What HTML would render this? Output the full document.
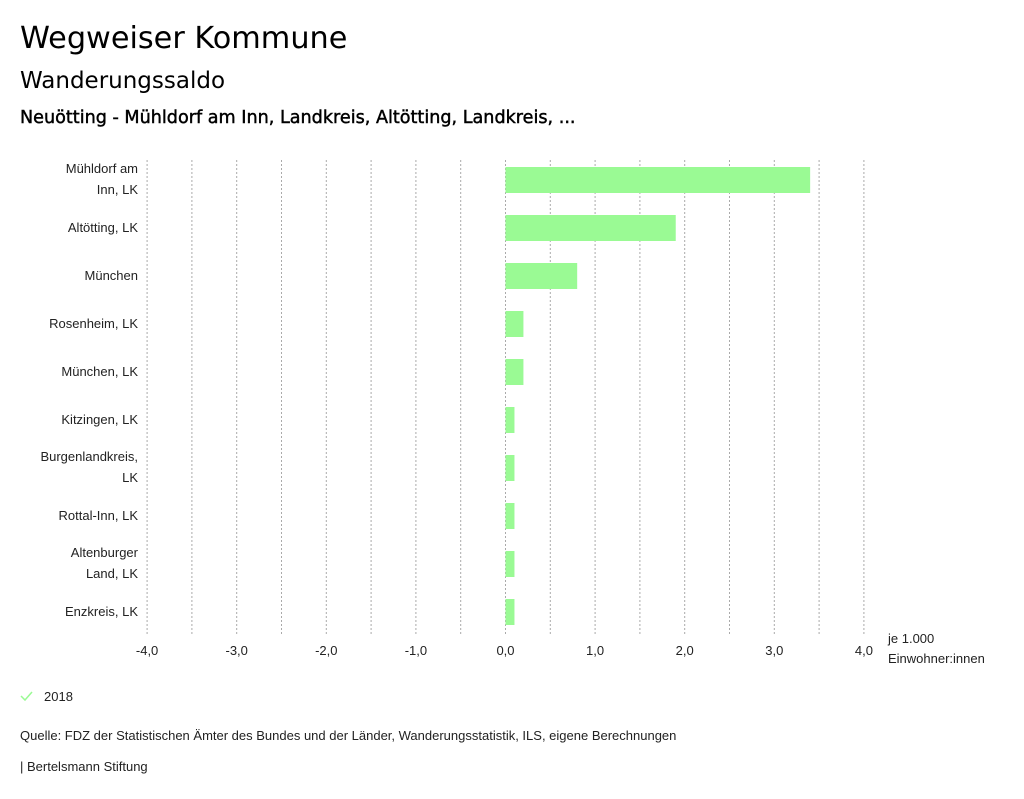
<!DOCTYPE html>
<html><head><meta charset="utf-8"><style>
html,body{margin:0;padding:0;background:#fff;width:1024px;height:799px;overflow:hidden}
svg{display:block}
.t{font-family:"DejaVu Sans",sans-serif;fill:#000}
.s{font-family:"Liberation Sans",sans-serif;font-size:13px;fill:#222}
</style></head><body>
<svg id="chart" width="1024" height="799">
<text class="t" x="20" y="48" font-size="30.3">Wegweiser Kommune</text>
<text class="t" x="20" y="88" font-size="23">Wanderungssaldo</text>
<text class="t" x="20" y="123" font-size="17.6" stroke="#000" stroke-width="0.45">Neuötting - Mühldorf am Inn, Landkreis, Altötting, Landkreis, ...</text>
<g id="grid"></g><g id="bars"></g><g id="ylabels"></g><g id="xlabels"></g>
<text class="s" x="888" y="643">je 1.000</text>
<text class="s" x="888" y="663">Einwohner:innen</text>
<g>
<path d="M21 696 l4 4 l7 -8" stroke="#9afa94" stroke-width="1.5" fill="none"/>
<text class="s" x="44" y="701">2018</text></g>
<text class="s" x="20" y="740">Quelle: FDZ der Statistischen Ämter des Bundes und der Länder, Wanderungsstatistik, ILS, eigene Berechnungen</text>
<text class="s" x="20" y="771">| Bertelsmann Stiftung</text>
</svg>
<script>
const categories=[["Mühldorf am","Inn, LK"],["Altötting, LK"],["München"],["Rosenheim, LK"],["München, LK"],["Kitzingen, LK"],["Burgenlandkreis,","LK"],["Rottal-Inn, LK"],["Altenburger","Land, LK"],["Enzkreis, LK"]];
const values=[3.4,1.9,0.8,0.2,0.2,0.1,0.1,0.1,0.1,0.1];
const tickLabels=["-4,0","-3,0","-2,0","-1,0","0,0","1,0","2,0","3,0","4,0"];
const tickValues=[-4,-3,-2,-1,0,1,2,3,4];
const NS="http://www.w3.org/2000/svg";
const x=v=>505.5+v*89.6;
const y=i=>160+i*48;
function mk(t,a,p){const e=document.createElementNS(NS,t);for(const k in a)e.setAttribute(k,a[k]);p.appendChild(e);return e;}
const grid=document.getElementById('grid');
for(let v=-4;v<=4.001;v+=0.5){
 const l=mk('line',{x1:x(v),x2:x(v),y1:160,y2:636,stroke:'#aaa','stroke-dasharray':'2,2','stroke-width':1},grid);
 
 
}
const bars=document.getElementById('bars');
values.forEach((v,i)=>{
 const r=mk('rect',{x:Math.min(x(0),x(v)),y:y(i)+7,width:Math.abs(x(v)-x(0)),height:26,fill:'#9afa94'},bars);
 
 
});
const yl=document.getElementById('ylabels');
categories.forEach((c,i)=>{
 const cy=y(i)+20;
 c.forEach((line,j)=>{
  const t=mk('text',{class:'s',x:138,y:(c.length===1?cy+4:cy-7+j*21),'text-anchor':'end'},yl);
  t.textContent=line;
  
  
 });
});
const xl=document.getElementById('xlabels');
tickValues.forEach((v,i)=>{
 const t=mk('text',{class:'s',x:x(v),y:655,'text-anchor':'middle'},xl);
 t.textContent=tickLabels[i];
 
 
});
</script>
</body></html>
